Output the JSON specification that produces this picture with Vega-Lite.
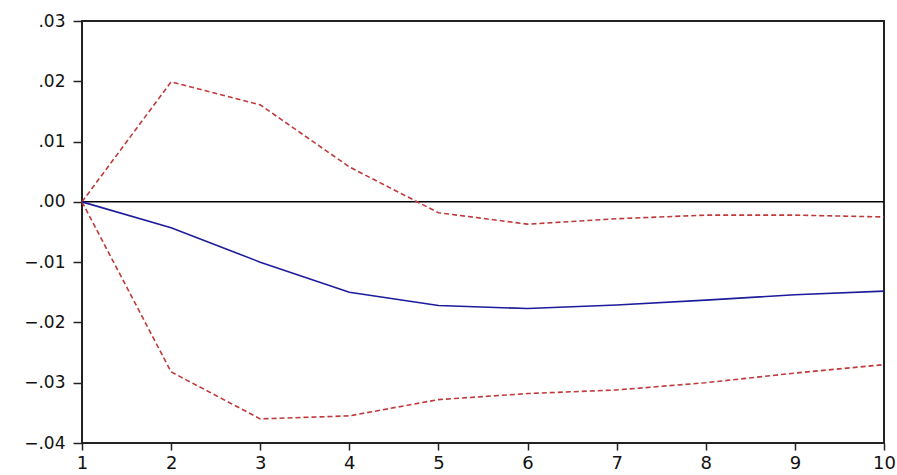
{
  "$schema": "https://vega.github.io/schema/vega-lite/v6.json",
  "autosize": "none",
  "width": 802,
  "height": 422,
  "padding": {"left": 82, "top": 21, "right": 13, "bottom": 32},
  "background": "white",
  "config": {
    "view": {"stroke": "#222222", "strokeWidth": 2},
    "axis": {"grid": false, "domain": false, "labelFont": "DejaVu Sans", "labelColor": "#111111", "tickColor": "#222222", "tickWidth": 1.5, "title": null}
  },
  "datasets": {
    "irf": [
      {"step": 1, "series": "response", "value": 0.0},
      {"step": 2, "series": "response", "value": -0.0043},
      {"step": 3, "series": "response", "value": -0.0100},
      {"step": 4, "series": "response", "value": -0.0150},
      {"step": 5, "series": "response", "value": -0.0172},
      {"step": 6, "series": "response", "value": -0.0177},
      {"step": 7, "series": "response", "value": -0.0171},
      {"step": 8, "series": "response", "value": -0.0163},
      {"step": 9, "series": "response", "value": -0.0154},
      {"step": 10, "series": "response", "value": -0.0148},
      {"step": 1, "series": "upper", "value": 0.0},
      {"step": 2, "series": "upper", "value": 0.0199},
      {"step": 3, "series": "upper", "value": 0.0161},
      {"step": 4, "series": "upper", "value": 0.0058},
      {"step": 5, "series": "upper", "value": -0.0018},
      {"step": 6, "series": "upper", "value": -0.0037},
      {"step": 7, "series": "upper", "value": -0.0028},
      {"step": 8, "series": "upper", "value": -0.0022},
      {"step": 9, "series": "upper", "value": -0.0022},
      {"step": 10, "series": "upper", "value": -0.0025},
      {"step": 1, "series": "lower", "value": 0.0},
      {"step": 2, "series": "lower", "value": -0.0282},
      {"step": 3, "series": "lower", "value": -0.0360},
      {"step": 4, "series": "lower", "value": -0.0355},
      {"step": 5, "series": "lower", "value": -0.0328},
      {"step": 6, "series": "lower", "value": -0.0318},
      {"step": 7, "series": "lower", "value": -0.0312},
      {"step": 8, "series": "lower", "value": -0.0300},
      {"step": 9, "series": "lower", "value": -0.0284},
      {"step": 10, "series": "lower", "value": -0.0270}
    ],
    "zero": [{"y": 0}]
  },
  "layer": [
    {
      "data": {"name": "zero"},
      "mark": {"type": "rule", "color": "#000000", "strokeWidth": 1.5},
      "encoding": {"y": {"field": "y", "type": "quantitative", "scale": {"domain": [-0.04, 0.03]}}}
    },
    {
      "data": {"name": "irf"},
      "transform": [{"filter": "datum.series !== 'response'"}],
      "mark": {"type": "line", "color": "#c0393b", "strokeWidth": 1.6, "strokeDash": [5, 3]},
      "encoding": {
        "detail": {"field": "series"},
        "x": {"field": "step", "type": "quantitative", "scale": {"domain": [1, 10], "nice": false},
              "axis": {"values": [1,2,3,4,5,6,7,8,9,10], "format": "d", "tickSize": 7, "labelPadding": 4, "labelFontSize": 18, "labelFlush": false, "labelOverlap": false}},
        "y": {"field": "value", "type": "quantitative", "scale": {"domain": [-0.04, 0.03], "nice": false},
              "axis": {"values": [-0.04,-0.03,-0.02,-0.01,0,0.01,0.02,0.03], "tickSize": 9, "labelPadding": 8, "labelFontSize": 17, "labelFlush": false, "labelOverlap": false,
                       "labelExpr": "replace(format(datum.value, '.2f'), '0.', '.')"}}
      }
    },
    {
      "data": {"name": "irf"},
      "transform": [{"filter": "datum.series === 'response'"}],
      "mark": {"type": "line", "color": "#1c1c9c", "strokeWidth": 1.6},
      "encoding": {
        "x": {"field": "step", "type": "quantitative"},
        "y": {"field": "value", "type": "quantitative"}
      }
    }
  ]
}
